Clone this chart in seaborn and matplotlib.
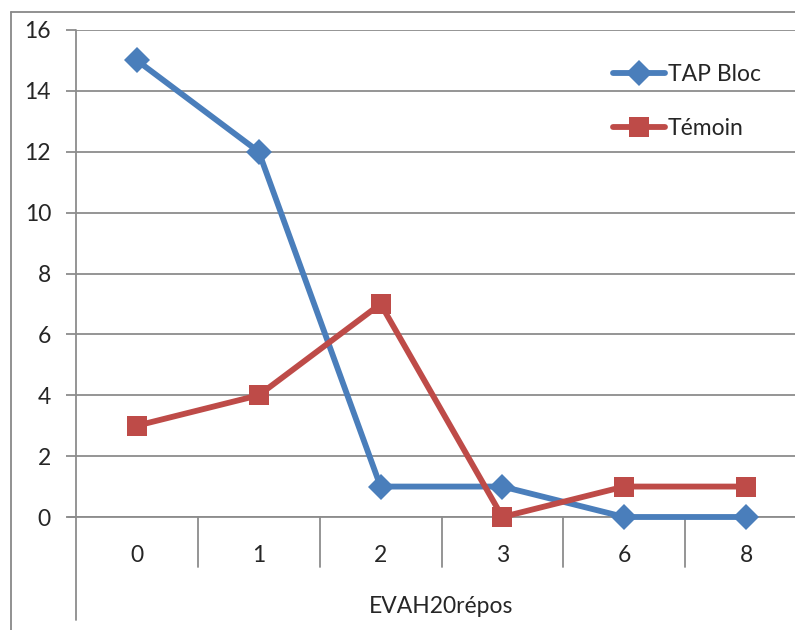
import pandas as pd
import matplotlib.pyplot as plt
import seaborn as sns
from matplotlib.lines import Line2D

categories = ["0", "1", "2", "3", "6", "8"]
tap_bloc = [15, 12, 1, 1, 0, 0]
temoin = [3, 4, 7, 0, 1, 1]
series_names = ["TAP Bloc", "Témoin"]
y_ticks = [0, 2, 4, 6, 8, 10, 12, 14, 16]

df = pd.DataFrame({
    "x": categories * 2,
    "y": tap_bloc + temoin,
    "serie": [series_names[0]] * len(categories) + [series_names[1]] * len(categories),
})

sns.set_theme(style="white")
plt.rcParams['font.family'] = ['Lato', 'DejaVu Sans']

W, H = 795, 630
fig = plt.figure(figsize=(W / 100, H / 100), dpi=100)
# plot area in pixels: x 76..807 (cropped at right), y 30..517
ax = fig.add_axes([76 / W, (H - 517) / H, (807 - 76) / W, (517 - 30) / H])

grid_col = "#8c8c8c"
fs = 16.5
sns.pointplot(data=df, x="x", y="y", hue="serie", order=categories,
              palette=["#4a7ebb", "#be4b48"], markers=["D", "s"],
              linestyles=["-", "-"], errorbar=None, ax=ax, legend=False)

series_lines = []
for ln in ax.lines:
    if len(ln.get_xdata()) == len(categories):
        ln.set_linewidth(4.2)
        ln.set_markeredgewidth(0)
        ln.set_markersize(13 if ln.get_marker() == "D" else 14)
        ln.set_clip_on(False)
        ln.set_zorder(5)
        series_lines.append(ln)

ax.set_xlim(-0.5, len(categories) - 0.5)
ax.set_ylim(0, 16)
ax.set_yticks(y_ticks)
ax.yaxis.grid(True, color=grid_col, linewidth=1.3)
ax.set_axisbelow(True)
for s in ["top", "right", "bottom", "left"]:
    ax.spines[s].set_visible(False)
ax.tick_params(axis="y", length=7, width=1.3, color=grid_col, labelsize=fs, pad=11, left=True)
ax.tick_params(axis="x", length=0, labelsize=fs, pad=20)
ax.set_xlabel("EVAH20répos", fontsize=fs, labelpad=22)
ax.set_ylabel("")

# y axis line running down below the labels
ax.add_line(Line2D([0, 0], [1, -(620 - 517) / (517 - 30)], transform=ax.transAxes,
                   color=grid_col, linewidth=1.3, clip_on=False))
# horizontal axis line, and category separators
ax.add_line(Line2D([-8 / (807 - 76), 1], [0, 0], transform=ax.transAxes,
                   color=grid_col, linewidth=1.3, clip_on=False))
for i in range(1, len(categories) + 1):
    ax.plot([i - 0.5, i - 0.5], [0, -1.65], color=grid_col, linewidth=1.3, clip_on=False)

# legend
handles = [Line2D([], [], color=ln.get_color(), linewidth=4.2, marker=ln.get_marker(),
                  markersize=ln.get_markersize(), markeredgewidth=0) for ln in series_lines]
ax.legend(handles, series_names, loc="upper left", bbox_to_anchor=(592 / W, (H - 43) / H),
          bbox_transform=fig.transFigure, frameon=False, fontsize=fs,
          handlelength=2.3, handletextpad=0.1, labelspacing=1.45)

# outer chart border (left and top visible)
fig.add_artist(Line2D([10.5 / W, 10.5 / W], [0, (H - 12) / H], transform=fig.transFigure,
                      color="#888888", linewidth=1.3))
fig.add_artist(Line2D([10.5 / W, 1], [(H - 12) / H, (H - 12) / H], transform=fig.transFigure,
                      color="#888888", linewidth=1.3))

fig.savefig("out.png", dpi=100)
